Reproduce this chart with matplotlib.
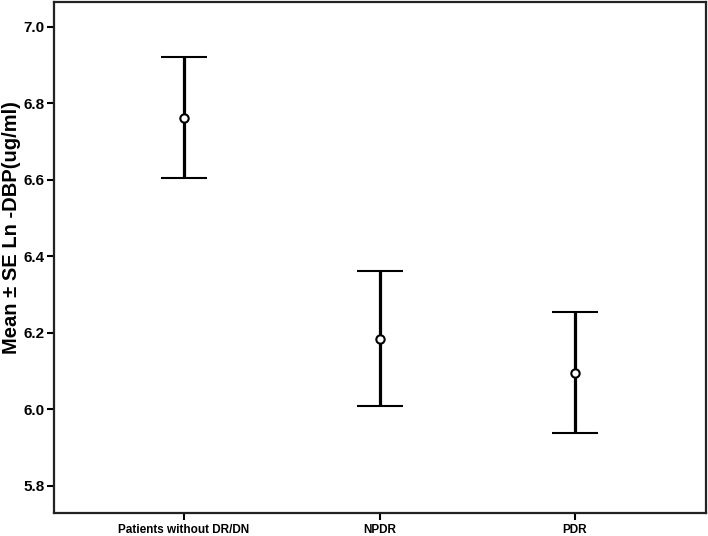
import matplotlib
matplotlib.use("Agg")
import matplotlib.pyplot as plt
import numpy as np

categories = ["Patients without DR/DN", "NPDR", "PDR"]
means = [6.762, 6.184, 6.095]
upper = [6.921, 6.361, 6.253]
lower = [6.604, 6.008, 5.937]
yticks = [5.8, 6.0, 6.2, 6.4, 6.6, 6.8, 7.0]

plt.rcParams['font.family'] = ['Liberation Sans', 'DejaVu Sans']

fig = plt.figure(figsize=(7.08, 5.36), dpi=100)
ax = fig.add_axes([54/708, 1 - 512.7/536, (706-54)/708, (512.7-2)/536])

x = np.arange(len(categories))
m = np.array(means)
err = [m - np.array(lower), np.array(upper) - m]
ax.errorbar(x, m, yerr=err, fmt='o', color='black', ecolor='black',
            elinewidth=2.3, capsize=16.5, capthick=2.3,
            markerfacecolor='white', markeredgecolor='black',
            markersize=6, markeredgewidth=1.5)

ax.set_xlim(-0.665, 2.67)
ax.set_ylim(5.729, 7.065)
ax.set_yticks(yticks)
ax.set_yticklabels([f"{v:.1f}" for v in yticks], fontsize=11, fontweight='bold')
ax.set_xticks(x)
ax.set_xticklabels(categories, fontsize=8.5, fontweight='bold')
ax.tick_params(axis='both', direction='out', length=5, width=1.5, color='black')
ax.tick_params(axis='x', pad=3)
ax.tick_params(axis='y', pad=2)
for s in ax.spines.values():
    s.set_linewidth(1.6)
    s.set_color('#222222')

fig.text(12/708, 1 - 228/536, "Mean ± SE Ln -DBP(ug/ml)", rotation=90,
         ha='center', va='center', fontsize=14.5, fontweight='bold')

fig.savefig("out.png", dpi=100)
